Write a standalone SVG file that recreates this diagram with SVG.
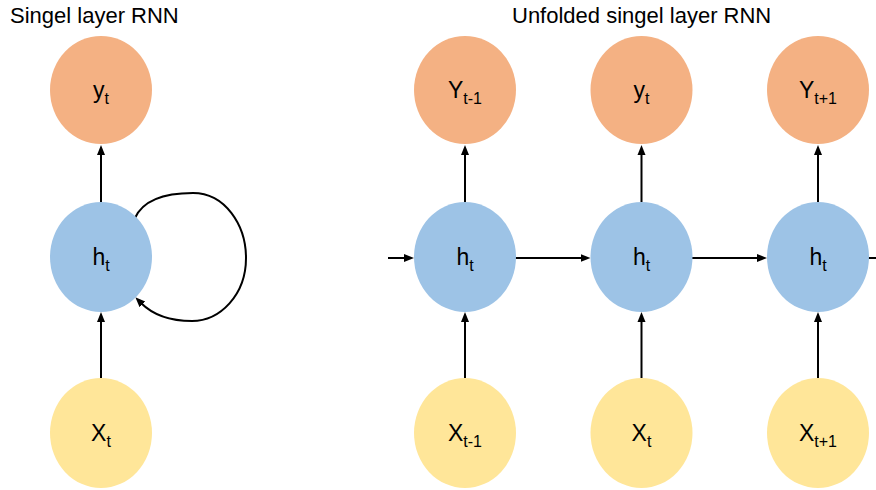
<svg xmlns="http://www.w3.org/2000/svg" width="876" height="490" viewBox="0 0 876 490">
  <defs>
    <marker id="arrow" markerUnits="userSpaceOnUse" markerWidth="10" markerHeight="10" viewBox="0 0 10 10" refX="2" refY="5" orient="auto">
      <path d="M0,1 L10,5 L0,9 z" fill="#000"/>
    </marker>
    <style>
      .title { font-family: "Liberation Sans", Arial, sans-serif; font-size: 22px; fill: #000; }
      .label { font-family: "Liberation Sans", Arial, sans-serif; font-size: 23px; fill: #000; text-anchor: middle; }
      .sub { font-size: 16px; }
      .out { fill: #F4B183; }
      .hid { fill: #9DC3E6; }
      .inp { fill: #FFE699; }
      .edge { fill: none; stroke: #000; stroke-width: 2; marker-end: url(#arrow); }
      .plain { fill: none; stroke: #000; stroke-width: 2; }
    </style>
  </defs>

  <rect width="876" height="490" fill="#fff"/>

  <text class="title" x="10" y="23">Singel layer RNN</text>
  <text class="title" x="512" y="23">Unfolded singel layer RNN</text>

  <!-- connectors -->
  <g id="connectors">
    <!-- folded network -->
    <line class="edge" x1="101" y1="202" x2="101" y2="153"/>
    <line class="edge" x1="101" y1="378" x2="101" y2="320"/>
    <path class="edge" d="M135,218 C145,196 172,193 193,193 C225,193 246,225 246,258 C246,295 220,321 192,321 C170,321 152,314 141,303"/>

    <!-- unfolded network: inputs to hidden -->
    <line class="edge" x1="465" y1="378" x2="465" y2="320"/>
    <line class="edge" x1="641.5" y1="378" x2="641.5" y2="320"/>
    <line class="edge" x1="818" y1="378" x2="818" y2="320"/>
    <!-- hidden to outputs -->
    <line class="edge" x1="465" y1="202" x2="465" y2="153"/>
    <line class="edge" x1="641.5" y1="202" x2="641.5" y2="153"/>
    <line class="edge" x1="818" y1="202" x2="818" y2="153"/>
    <!-- hidden state chain -->
    <line class="edge" x1="388" y1="258" x2="406" y2="258"/>
    <line class="edge" x1="515" y1="258" x2="582.5" y2="258"/>
    <line class="edge" x1="692" y1="258" x2="759" y2="258"/>
    <line class="plain" x1="868" y1="258" x2="876" y2="258"/>
  </g>

  <!-- folded network nodes -->
  <g id="y_fold">
    <ellipse class="out" cx="101" cy="90" rx="51" ry="54"/>
    <text class="label" x="101" y="98">y<tspan class="sub" dy="6">t</tspan></text>
  </g>
  <g id="h_fold">
    <ellipse class="hid" cx="101" cy="257" rx="51" ry="55"/>
    <text class="label" x="101" y="265">h<tspan class="sub" dy="6">t</tspan></text>
  </g>
  <g id="x_fold">
    <ellipse class="inp" cx="101" cy="433" rx="51" ry="55"/>
    <text class="label" x="101" y="441">X<tspan class="sub" dy="6">t</tspan></text>
  </g>

  <!-- unfolded network nodes -->
  <g id="y_prev">
    <ellipse class="out" cx="465" cy="90" rx="51" ry="54"/>
    <text class="label" x="465" y="98">Y<tspan class="sub" dy="6">t-1</tspan></text>
  </g>
  <g id="y_cur">
    <ellipse class="out" cx="641.5" cy="90" rx="51" ry="54"/>
    <text class="label" x="641.5" y="98">y<tspan class="sub" dy="6">t</tspan></text>
  </g>
  <g id="y_next">
    <ellipse class="out" cx="818" cy="90" rx="51" ry="54"/>
    <text class="label" x="818" y="98">Y<tspan class="sub" dy="6">t+1</tspan></text>
  </g>

  <g id="h_prev">
    <ellipse class="hid" cx="465" cy="257" rx="51" ry="55"/>
    <text class="label" x="465" y="265">h<tspan class="sub" dy="6">t</tspan></text>
  </g>
  <g id="h_cur">
    <ellipse class="hid" cx="641.5" cy="257" rx="51" ry="55"/>
    <text class="label" x="641.5" y="265">h<tspan class="sub" dy="6">t</tspan></text>
  </g>
  <g id="h_next">
    <ellipse class="hid" cx="818" cy="257" rx="51" ry="55"/>
    <text class="label" x="818" y="265">h<tspan class="sub" dy="6">t</tspan></text>
  </g>

  <g id="x_prev">
    <ellipse class="inp" cx="465" cy="433" rx="51" ry="55"/>
    <text class="label" x="465" y="441">X<tspan class="sub" dy="6">t-1</tspan></text>
  </g>
  <g id="x_cur">
    <ellipse class="inp" cx="641.5" cy="433" rx="51" ry="55"/>
    <text class="label" x="641.5" y="441">X<tspan class="sub" dy="6">t</tspan></text>
  </g>
  <g id="x_next">
    <ellipse class="inp" cx="818" cy="433" rx="51" ry="55"/>
    <text class="label" x="818" y="441">X<tspan class="sub" dy="6">t+1</tspan></text>
  </g>
</svg>
